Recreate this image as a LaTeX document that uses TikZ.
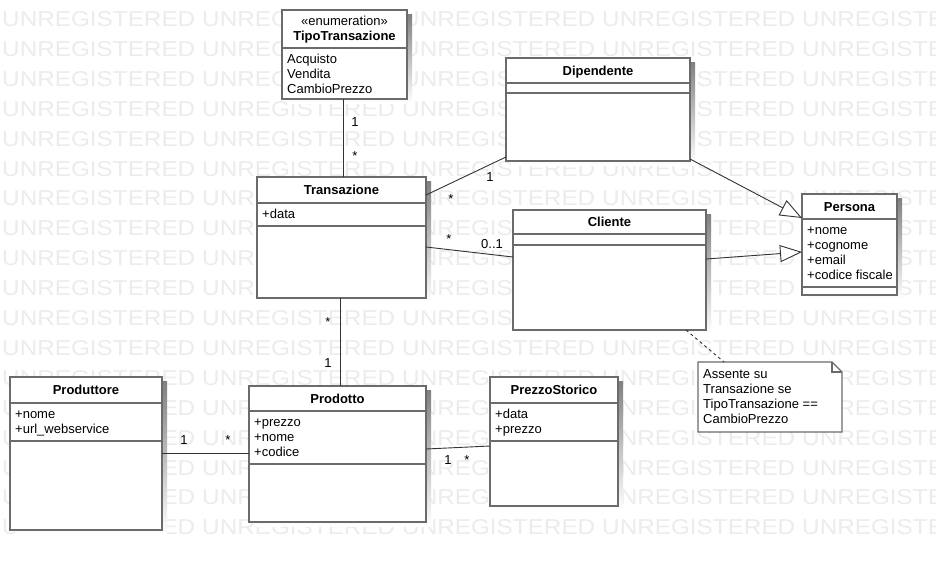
\documentclass[tikz,border=0pt]{standalone}
\usepackage{fontspec}
\setmainfont{Liberation Sans}
\usetikzlibrary{arrows.meta}

\definecolor{wmark}{gray}{0.925}
\definecolor{boxdraw}{gray}{0.42}
\definecolor{shade}{gray}{0.95}
\definecolor{wire}{gray}{0.2}

\tikzset{
  classbox/.style={draw=boxdraw, line width=1.4pt, fill=white, inner sep=0pt,
    outer sep=0pt, anchor=north west},
  divider/.style={draw=boxdraw, line width=1.4pt},
  wm/.style={text=wmark, font=\fontsize{21.5}{21.5}\selectfont, anchor=base west,
    inner sep=0pt, xscale=1.13},
  classtitle/.style={font=\bfseries\fontsize{13}{15}\selectfont, anchor=base, inner sep=0pt},
  stereo/.style={font=\fontsize{13}{15}\selectfont, anchor=base, inner sep=0pt},
  attrtext/.style={font=\fontsize{13}{15}\selectfont, anchor=base west, inner sep=0pt},
  mult/.style={font=\fontsize{13}{15}\selectfont, anchor=base, inner sep=0pt},
  assoc/.style={draw=wire, line width=0.9pt},
  inherit/.style={assoc, -{Triangle[length=22pt, width=17pt, fill=white]}},
  noteline/.style={draw=wire, line width=0.9pt, dash pattern=on 3pt off 3pt},
}

% class box: name, left, top, right, bottom, divider 1, divider 2, title, attributes
\newcommand{\umlclass}[9]{%
  \fill[shade] (#2+5,#3+4) rectangle (#4+5,#5+4);
  \node[classbox, minimum width={#4-#2}, minimum height={#5-#3}] (#1) at (#2,#3) {};
  \draw[divider] (#1.west |- 0,#6) -- (#1.east |- 0,#6);
  \draw[divider] (#1.west |- 0,#7) -- (#1.east |- 0,#7);
  \node[classtitle] (#1-t) at ({(#2+#4)/2},{(#3+#6)/2+4.7}) {#8};
  \if\relax\detokenize{#9}\relax\else
    \foreach \txt [count=\i] in {#9} {
      \node[attrtext] (#1-a\i) at (#2+5,{#6+15*\i}) {\txt};
    }%
  \fi
}

\begin{document}
\begin{tikzpicture}[x=1pt, y=-1pt]
  \useasboundingbox (0,0) rectangle (936,570);
  \fill[white] (0,0) rectangle (936,570);

  % background lettering
  \begin{scope}
    \clip (0,0) rectangle (936,570);
    \foreach \k in {0,...,17} {
      \foreach \j in {0,...,4} {
        \node[wm] (wm-\k-\j) at ({2+200*\j},{26.5+29.9*\k}) {UNREGISTERED};
      }
    }
  \end{scope}

  % enumeration
  \fill[shade] (287,14) rectangle (412,103);
  \node[classbox, minimum width=125, minimum height=89] (tipo) at (282,10) {};
  \draw[divider] (tipo.west |- 0,48) -- (tipo.east |- 0,48);
  \node[stereo] (tipo-s) at (344.5,25.5) {«enumeration»};
  \node[classtitle] (tipo-t) at (344.5,40.5) {TipoTransazione};
  \foreach \txt [count=\i] in {Acquisto,Vendita,CambioPrezzo} {
    \node[attrtext] (tipo-a\i) at (287,{48+15*\i}) {\txt};
  }

  % classes
  \umlclass{trans}{257}{177}{426}{298}{203}{226}{Transazione}{+data}
  \umlclass{dip}{506}{58}{690}{161}{83}{93}{Dipendente}{}
  \umlclass{cli}{513}{210}{706}{330}{234}{245}{Cliente}{}
  \umlclass{pers}{802}{194}{897}{295}{219}{287}{Persona}{+nome,+cognome,+email,+codice fiscale}
  \umlclass{prod}{10}{377}{162}{530}{403}{441}{Produttore}{+nome,+url\_webservice}
  \umlclass{prdt}{249}{386}{426}{522}{411}{464}{Prodotto}{+prezzo,+nome,+codice}
  \umlclass{prez}{490}{377}{618}{506}{403}{441}{PrezzoStorico}{+data,+prezzo}

  % note
  \node[inner sep=0pt, outer sep=0pt, minimum width=144, minimum height=70,
        anchor=north west] (note) at (698,362) {};
  \draw[draw=boxdraw, line width=1.2pt, fill=white]
    (note.north west) -- ([xshift=-10pt]note.north east)
    -- ([yshift=-10pt]note.north east) -- (note.south east)
    -- (note.south west) -- cycle;
  \draw[draw=boxdraw, line width=1.2pt]
    ([xshift=-10pt]note.north east) -- ([xshift=-10pt,yshift=-10pt]note.north east)
    -- ([yshift=-10pt]note.north east);
  \foreach \txt [count=\i] in {Assente su,Transazione se,TipoTransazione ==,CambioPrezzo} {
    \node[attrtext] (note-l\i) at (703,{363+15*\i}) {\txt};
  }

  % associations
  \draw[assoc] (tipo.south -| 343,0) -- (trans.north -| 343,0);
  \node[mult] (m1a) at (355,126) {1};
  \node[mult] (m1b) at (355,160) {*};

  \draw[assoc] (trans.east |- 0,195) -- (dip.west |- 0,157);
  \node[mult] (m2a) at (490,181) {1};
  \node[mult] (m2b) at (451,203) {*};

  \draw[assoc] (trans.east |- 0,247) -- (cli.west |- 0,257);
  \node[mult] (m3a) at (449,243) {*};
  \node[mult] (m3b) at (492,248) {0..1};

  \draw[assoc] (trans.south -| 340,0) -- (prdt.north -| 340,0);
  \node[mult] (m4a) at (328,326) {*};
  \node[mult] (m4b) at (328,367) {1};

  \draw[assoc] (prod.east |- 0,453) -- (prdt.west |- 0,453);
  \node[mult] (m5a) at (184,444.5) {1};
  \node[mult] (m5b) at (228,444.5) {*};

  \draw[assoc] (prdt.east |- 0,449) -- (prez.west |- 0,446);
  \node[mult] (m6a) at (448,464) {1};
  \node[mult] (m6b) at (467,464) {*};

  % generalizations
  \draw[inherit] (dip.east |- 0,159) -- (pers.west |- 0,218);
  \draw[inherit] (cli.east |- 0,259) -- (pers.west |- 0,252);

  % note anchor
  \draw[noteline] (cli.south -| 686,0) -- (note.north -| 724,0);
\end{tikzpicture}
\end{document}
